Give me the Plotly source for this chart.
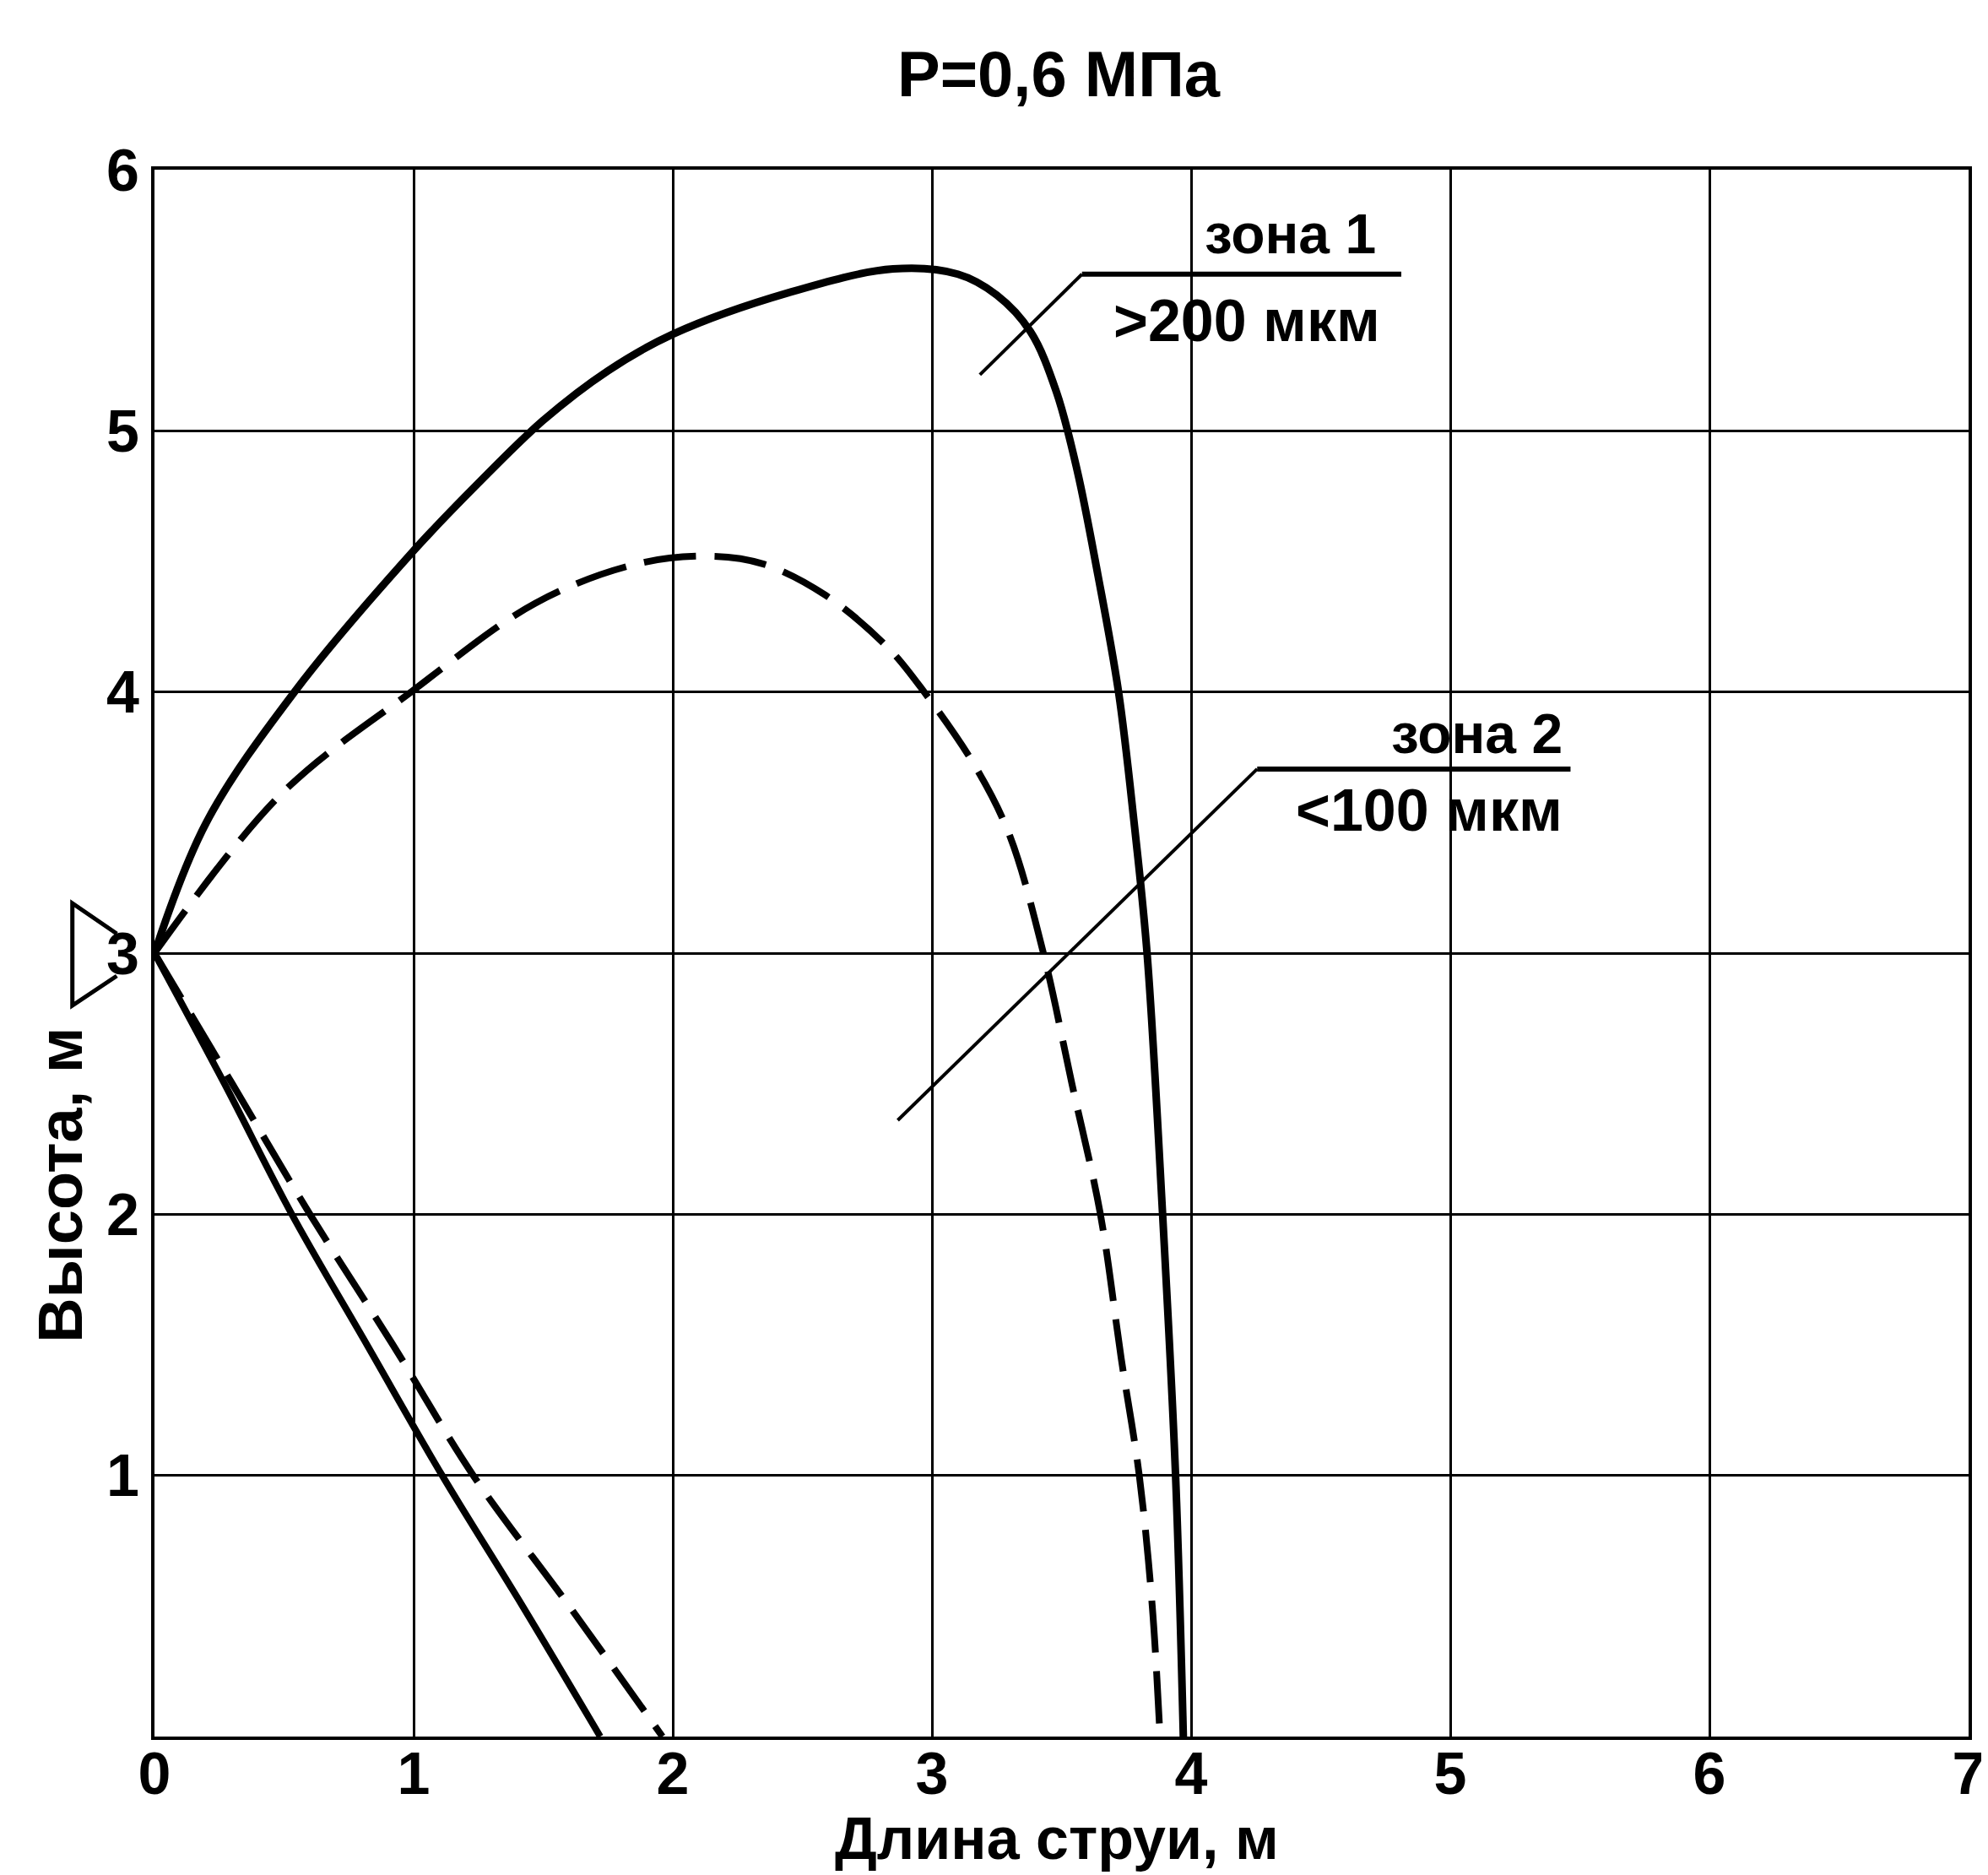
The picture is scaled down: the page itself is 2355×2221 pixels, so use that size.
import plotly.graph_objects as go

# --- data ---
# zone 1 (>200 мкм), solid curves
z1_up_x = [0.0, 0.2, 0.54, 0.99, 1.25, 1.5, 1.75, 2.0, 2.45, 2.85, 3.1, 3.25, 3.38, 3.48, 3.56, 3.64, 3.72, 3.78, 3.83, 3.89, 3.94, 3.97]
z1_up_y = [3.0, 3.5, 4.0, 4.53, 4.80, 5.04, 5.23, 5.37, 5.53, 5.62, 5.60, 5.52, 5.38, 5.15, 4.85, 4.45, 4.0, 3.5, 3.0, 2.0, 1.0, 0.0]
z1_lo_x = [0.0, 0.27, 0.53, 0.82, 1.11, 1.42, 1.72]
z1_lo_y = [3.0, 2.5, 2.0, 1.5, 1.0, 0.5, 0.0]
# zone 2 (<100 мкм), dashed curves
z2_up_x = [0.0, 0.49, 0.99, 1.47, 1.86, 2.15, 2.35, 2.59, 2.83, 2.97, 3.17, 3.30, 3.43, 3.54, 3.65, 3.73, 3.80, 3.85, 3.88]
z2_up_y = [3.0, 3.61, 4.0, 4.34, 4.49, 4.52, 4.49, 4.37, 4.17, 4.0, 3.71, 3.45, 3.0, 2.5, 2.0, 1.45, 1.0, 0.5, 0.0]
z2_lo_x = [0.0, 0.30, 0.60, 0.92, 1.23, 1.60, 1.96]
z2_lo_y = [3.0, 2.5, 2.0, 1.5, 1.0, 0.5, 0.0]

x_ticks = [0, 1, 2, 3, 4, 5, 6, 7]
y_ticks = [1, 2, 3, 4, 5, 6]

title_text = "P=0,6 МПа"
x_title = "Длина струи, м"
y_title = "Высота, м"
zone1_top, zone1_bot = "зона 1", ">200 мкм"
zone2_top, zone2_bot = "зона 2", "<100 мкм"

# leader lines for the zone labels
lead1_x = [3.185, 3.579, 4.811]
lead1_y = [5.215, 5.600, 5.600]
lead2_x = [2.868, 4.255, 5.464]
lead2_y = [2.360, 3.705, 3.705]

FONT = "Liberation Sans, Arial, sans-serif"

fig = go.Figure()
spl = dict(shape="spline", smoothing=1.0)
fig.add_trace(go.Scatter(x=z1_up_x, y=z1_up_y, mode="lines", line=dict(color="black", width=9, **spl), showlegend=False))
fig.add_trace(go.Scatter(x=z1_lo_x, y=z1_lo_y, mode="lines", line=dict(color="black", width=8, **spl), showlegend=False))
fig.add_trace(go.Scatter(x=z2_up_x, y=z2_up_y, mode="lines", line=dict(color="black", width=8, dash="62px,22px", **spl), showlegend=False))
fig.add_trace(go.Scatter(x=z2_lo_x, y=z2_lo_y, mode="lines", line=dict(color="black", width=8, dash="62px,22px", **spl), showlegend=False))
# leader lines
fig.add_trace(go.Scatter(x=lead1_x[:2], y=lead1_y[:2], mode="lines", line=dict(color="black", width=4), showlegend=False))
fig.add_trace(go.Scatter(x=lead1_x[1:], y=lead1_y[1:], mode="lines", line=dict(color="black", width=6), showlegend=False))
fig.add_trace(go.Scatter(x=lead2_x[:2], y=lead2_y[:2], mode="lines", line=dict(color="black", width=4), showlegend=False))
fig.add_trace(go.Scatter(x=lead2_x[1:], y=lead2_y[1:], mode="lines", line=dict(color="black", width=6), showlegend=False))

L, R, T, B = 175, 15, 193, 172
W, H = 2355, 2221
PW, PH = W - L - R, H - T - B


def px(x):
    return (x - L) / PW


def py(y):
    return (H - B - y) / PH


annotations = [
    dict(text=title_text, x=px(1254), y=py(80), xref="paper", yref="paper", showarrow=False,
         xanchor="center", yanchor="middle", font=dict(family=FONT, size=76, color="black", weight="bold")),
    dict(text=x_title, x=px(1252), y=py(2170), xref="paper", yref="paper", showarrow=False,
         xanchor="center", yanchor="middle", font=dict(family=FONT, size=70, color="black", weight="bold")),
    dict(text=y_title, x=px(62), y=py(1396), xref="paper", yref="paper", showarrow=False, textangle=-90,
         xanchor="center", yanchor="middle", font=dict(family=FONT, size=74, color="black", weight="bold")),
    dict(text=zone1_top, x=4.72, y=5.755, xref="x", yref="y", showarrow=False, xanchor="right", yanchor="middle",
         font=dict(family=FONT, size=66, color="black", weight="bold")),
    dict(text=zone1_bot, x=4.737, y=5.422, xref="x", yref="y", showarrow=False, xanchor="right", yanchor="middle",
         font=dict(family=FONT, size=70, color="black", weight="bold")),
    dict(text=zone2_top, x=5.441, y=3.841, xref="x", yref="y", showarrow=False, xanchor="right", yanchor="middle",
         font=dict(family=FONT, size=66, color="black", weight="bold")),
    dict(text=zone2_bot, x=5.441, y=3.547, xref="x", yref="y", showarrow=False, xanchor="right", yanchor="middle",
         font=dict(family=FONT, size=70, color="black", weight="bold")),
]

# water-level triangle marker next to y=3
tri = "M {},{} L {},{} L {},{} L {},{}".format(px(130), py(1098), px(77), py(1062), px(77), py(1183), px(130), py(1148))
shapes = [dict(type="path", path=tri, xref="paper", yref="paper", line=dict(color="black", width=5))]

fig.update_layout(
    width=W, height=H,
    margin=dict(l=L, r=R, t=T, b=B),
    paper_bgcolor="white", plot_bgcolor="white",
    annotations=annotations, shapes=shapes,
    showlegend=False,
)
fig.update_xaxes(range=[0, 7], tickvals=x_ticks, ticktext=[str(v) for v in x_ticks],
                 showgrid=True, gridcolor="black", gridwidth=2.5, zeroline=False,
                 showline=True, linecolor="black", linewidth=4, mirror=True,
                 ticks="", ticklabelstandoff=-20, ticklabeloverflow="allow",
                 tickfont=dict(family=FONT, size=70, color="black", weight="bold"))
fig.update_yaxes(range=[0, 6], tickvals=y_ticks, ticktext=[str(v) for v in y_ticks],
                 showgrid=True, gridcolor="black", gridwidth=2.5, zeroline=False,
                 showline=True, linecolor="black", linewidth=4, mirror=True,
                 ticks="", tickfont=dict(family=FONT, size=70, color="black", weight="bold"))

fig.write_html("out.html")
